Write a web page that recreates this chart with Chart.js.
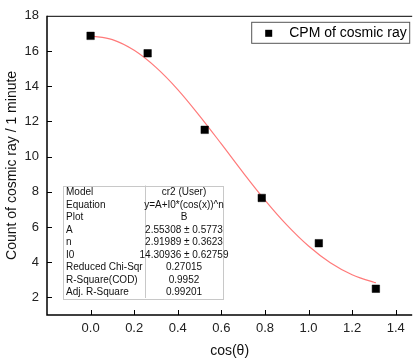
<!DOCTYPE html>
<html>
<head>
<meta charset="utf-8">
<script src="https://cdn.jsdelivr.net/npm/chart.js@4/dist/chart.umd.min.js"></script>
<style>
  html, body { margin: 0; padding: 0; background: #fff; overflow: hidden; }
  #wrap { width: 418px; height: 361px; }
</style>
</head>
<body>
<div id="wrap"><canvas id="chart" width="418" height="361"></canvas></div>
<script>
// measured points (x is the angle in radians, labelled cos(θ) on the original)
const angleX = [0, 0.2618, 0.5236, 0.7854, 1.0472, 1.309];
const cpm = [16.86, 15.87, 11.52, 7.65, 5.08, 2.49];

// fitted curve
const fitX = [0, 0.1, 0.2, 0.3, 0.4, 0.5, 0.6, 0.7, 0.8, 0.9, 1.0, 1.1, 1.2, 1.3, 1.309];
const fitY = [16.86, 16.65, 16.04, 15.07, 13.81, 12.32, 10.72, 9.09, 7.53, 6.12, 4.92, 3.97, 3.29, 2.86, 2.83];

const xTicks = [0, 0.2, 0.4, 0.6, 0.8, 1.0, 1.2, 1.4];
const yTicks = [2, 4, 6, 8, 10, 12, 14, 16, 18];

const statLabels = ['Model', 'Equation', 'Plot', 'A', 'n', 'I0', 'Reduced Chi-Sqr', 'R-Square(COD)', 'Adj. R-Square'];
const statValues = ['cr2 (User)', 'y=A+I0*(cos(x))^n', 'B', '2.55308 \u00b1 0.5773', '2.91989 \u00b1 0.3623',
  '14.30936 \u00b1 0.62759', '0.27015', '0.9952', '0.99201'];

const legendLabel = 'CPM of cosmic ray';
const FONT = "'Liberation Sans', Arial, sans-serif";

// axis frame + inward tick marks
const framePlugin = {
  id: 'frame',
  afterDatasetsDraw(chart) {
    const { ctx, chartArea: a, scales } = chart;
    ctx.save();
    ctx.strokeStyle = '#000';
    ctx.lineWidth = 1;
    ctx.beginPath();
    ctx.moveTo(a.left, a.top + 0.5);
    ctx.lineTo(a.right, a.top + 0.5);
    ctx.stroke();
    ctx.lineWidth = 1.5;
    ctx.beginPath();
    ctx.moveTo(a.left, a.top);
    ctx.lineTo(a.left, a.bottom);
    ctx.lineTo(a.right, a.bottom);
    ctx.stroke();
    ctx.lineWidth = 1;
    ctx.beginPath();
    xTicks.forEach(v => {
      const px = Math.round(scales.x.getPixelForValue(v)) + 0.5;
      ctx.moveTo(px, a.bottom);
      ctx.lineTo(px, a.bottom - 5);
    });
    yTicks.forEach(v => {
      if (v === 18) return;
      const py = Math.round(scales.y.getPixelForValue(v)) + 0.5;
      ctx.moveTo(a.left, py);
      ctx.lineTo(a.left + 5, py);
    });
    ctx.stroke();
    ctx.restore();
  }
};

// legend box and fit-results table
const notesPlugin = {
  id: 'notes',
  afterDraw(chart) {
    const { ctx, chartArea: a } = chart;
    ctx.save();

    // legend
    const lx = a.right - 161, ly = a.top + 6, lw = 158, lh = 21;
    ctx.fillStyle = '#fff';
    ctx.fillRect(lx, ly, lw, lh);
    ctx.strokeStyle = '#555';
    ctx.lineWidth = 1;
    ctx.strokeRect(lx + 0.5, ly + 0.5, lw, lh);
    ctx.fillStyle = '#000';
    ctx.fillRect(lx + 14, ly + 8, 7, 7);
    ctx.font = '14px ' + FONT;
    ctx.textBaseline = 'middle';
    ctx.fillText(legendLabel, lx + 38, ly + lh / 2 + 1);

    // table
    const tx = a.left + 16, ty = 185.5, rowH = 12.5, c1 = 82, c2 = 78;
    const th = rowH * statLabels.length;
    ctx.fillStyle = '#fff';
    ctx.fillRect(tx, ty, c1 + c2, th);
    ctx.strokeStyle = '#c8c8c8';
    ctx.strokeRect(tx + 0.5, Math.round(ty) + 0.5, c1 + c2, Math.round(th));
    ctx.beginPath();
    ctx.moveTo(tx + c1 + 0.5, ty);
    ctx.lineTo(tx + c1 + 0.5, ty + th);
    ctx.stroke();
    ctx.font = '10px ' + FONT;
    ctx.fillStyle = '#111';
    statLabels.forEach((s, i) => {
      const cy = ty + rowH * i + rowH / 2 + 0.5;
      ctx.textAlign = 'left';
      ctx.fillText(s, tx + 3, cy);
      ctx.textAlign = 'center';
      ctx.fillText(statValues[i], tx + c1 + c2 / 2, cy);
    });
    ctx.restore();
  }
};

new Chart(document.getElementById('chart'), {
  type: 'scatter',
  data: {
    datasets: [
      {
        label: legendLabel,
        data: angleX.map((x, i) => ({ x, y: cpm[i] })),
        pointStyle: 'rect',
        pointRadius: 5.3,
        pointBackgroundColor: '#000',
        pointBorderColor: '#000',
        pointBorderWidth: 0.5,
        showLine: false
      },
      {
        label: 'fit',
        type: 'line',
        data: fitX.map((x, i) => ({ x, y: fitY[i] })),
        borderColor: '#ff7a7a',
        borderWidth: 1.2,
        pointRadius: 0,
        cubicInterpolationMode: 'monotone',
        fill: false
      }
    ]
  },
  options: {
    responsive: false,
    animation: false,
    layout: { padding: { top: 13, left: 0, right: 0, bottom: 0 } },
    plugins: {
      legend: { display: false },
      tooltip: { enabled: false }
    },
    scales: {
      x: {
        type: 'linear',
        min: -0.2,
        max: 1.4757,
        afterBuildTicks: axis => { axis.ticks = xTicks.map(v => ({ value: v })); },
        afterFit: axis => { axis.height = 46; },
        grid: { display: false, drawTicks: false },
        border: { display: false },
        ticks: {
          padding: 6,
          color: '#222',
          font: { family: FONT, size: 13 },
          callback: v => v.toFixed(1)
        },
        title: {
          display: true,
          text: 'cos(\u03b8)',
          color: '#111',
          font: { family: FONT, size: 14 },
          padding: { top: 0, bottom: 1 }
        }
      },
      y: {
        min: 1,
        max: 18,
        afterBuildTicks: axis => { axis.ticks = yTicks.map(v => ({ value: v })); },
        afterFit: axis => { axis.width = 47; },
        grid: { display: false, drawTicks: false },
        border: { display: false },
        ticks: {
          padding: 8,
          color: '#222',
          font: { family: FONT, size: 13 }
        },
        title: {
          display: true,
          text: 'Count of cosmic ray / 1 minute',
          color: '#111',
          font: { family: FONT, size: 14 },
          padding: { top: 4, bottom: 0 }
        }
      }
    }
  },
  plugins: [framePlugin, notesPlugin]
});
</script>
</body>
</html>
